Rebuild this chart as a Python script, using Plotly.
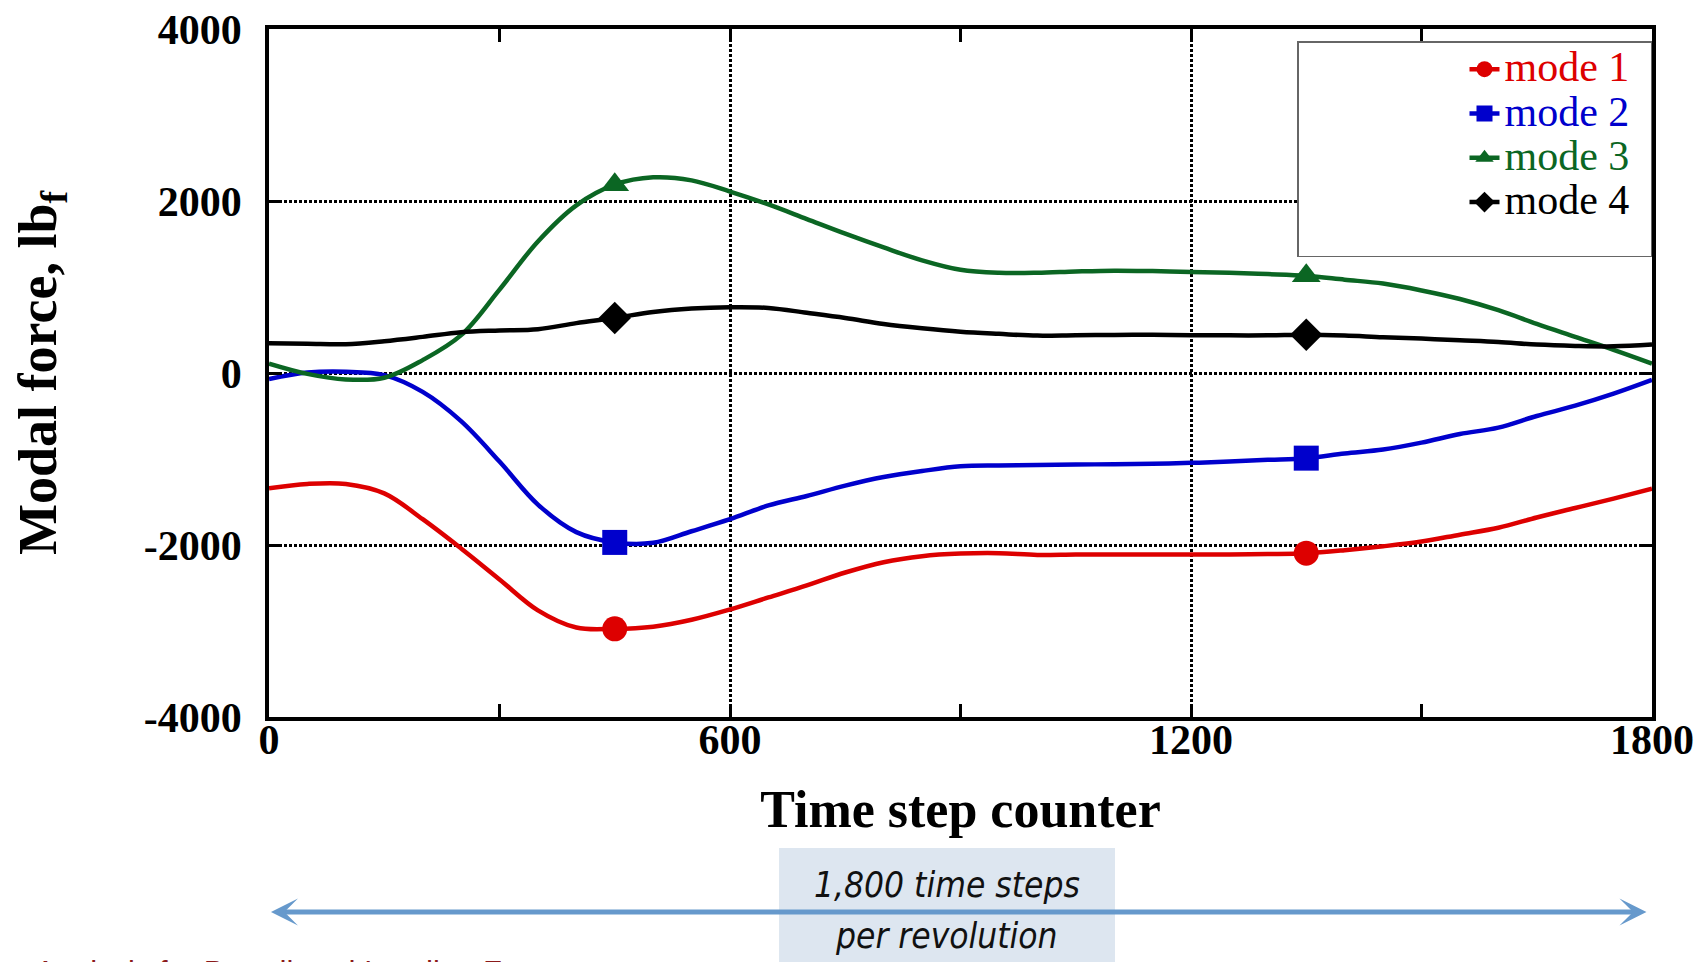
import plotly.graph_objects as go

# ---------------- data ----------------
time_step = [0, 50, 100, 150, 200, 250, 300, 350, 400, 450, 500, 550, 600,
             650, 700, 750, 800, 850, 900, 950, 1000, 1050, 1100, 1150, 1200,
             1250, 1300, 1350, 1400, 1450, 1500, 1550, 1600, 1650, 1700, 1750, 1800]

mode1 = [-1340, -1290, -1290, -1400, -1700, -2040, -2400, -2760, -2960, -2975,
         -2950, -2870, -2750, -2610, -2470, -2320, -2200, -2130, -2100, -2095,
         -2115, -2110, -2110, -2110, -2110, -2110, -2105, -2095, -2060, -2015,
         -1960, -1880, -1800, -1680, -1570, -1460, -1345]

mode2 = [-70, 5, 15, -25, -220, -560, -1030, -1530, -1850, -1970,
         -1975, -1840, -1700, -1540, -1430, -1310, -1210, -1140, -1085, -1075,
         -1070, -1065, -1060, -1055, -1045, -1030, -1010, -990, -935, -890,
         -810, -710, -635, -500, -380, -240, -80]

mode3 = [110, -10, -75, -55, 150, 440, 970, 1530, 1950, 2190,
         2275, 2240, 2110, 1960, 1790, 1620, 1460, 1310, 1200, 1165,
         1165, 1180, 1190, 1185, 1175, 1165, 1150, 1130, 1085, 1040,
         960, 860, 730, 570, 420, 270, 110]

mode4 = [345, 340, 335, 370, 420, 475, 495, 510, 580, 640,
         710, 750, 765, 757, 700, 640, 570, 520, 480, 455,
         435, 440, 443, 445, 440, 438, 438, 445, 435, 415,
         400, 380, 360, 330, 315, 310, 330]

marker_steps = [450, 1350]

series_names = ["mode 1", "mode 2", "mode 3", "mode 4"]
x_tick_vals = [0, 600, 1200, 1800]
x_tick_text = ["0", "600", "1200", "1800"]
y_tick_vals = [-4000, -2000, 0, 2000, 4000]
y_tick_text = ["-4000", "-2000", "0", "2000", "4000"]

# ---------------- style ----------------
colors = ["#dd0000", "#0000cc", "#0b6623", "#000000"]
symbols = ["circle", "square", "triangle-up", "diamond"]
serif = "Liberation Serif, Times New Roman, serif"

fig = go.Figure()

for name, ys, col, sym in zip(series_names, [mode1, mode2, mode3, mode4], colors, symbols):
    fig.add_trace(go.Scatter(
        x=time_step, y=ys, mode="lines",
        line=dict(color=col, width=4.5, shape="spline", smoothing=1),
        legendgroup=name, showlegend=False, hoverinfo="skip"))
    mx, my = [], []
    for i, s in enumerate(marker_steps):
        if i > 0:
            mx.append(None)
            my.append(None)
        mx.append(s)
        my.append(ys[time_step.index(s)])
    fig.add_trace(go.Scatter(
        x=mx, y=my, mode="lines+markers", connectgaps=False,
        name="<span style='color:%s;font-size:42px'>%s</span>&nbsp;&nbsp;" % (col, name),
        legendgroup=name,
        line=dict(color=col, width=4.5),
        marker=dict(symbol=sym, size=25, color=col, line=dict(width=0))))

axis_common = dict(
    showline=True, linewidth=3.5, linecolor="black", mirror="ticks",
    ticks="inside", ticklen=13, tickwidth=3, tickcolor="black",
    showgrid=True, gridcolor="black", gridwidth=3, griddash="3px,2px",
    zeroline=False, ticklabeloverflow="allow", automargin=False,
    tickfont=dict(family=serif, size=42, color="black", weight="bold"),
)

fig.update_xaxes(
    range=[0, 1800], tickvals=x_tick_vals, ticktext=x_tick_text,
    minor=dict(ticks="inside", ticklen=13, tickwidth=3, tickcolor="black",
               dtick=300, tick0=0, showgrid=False),
    title=dict(text="Time step counter", standoff=29,
               font=dict(family=serif, size=52, color="black", weight="bold")),
    ticklabelstandoff=-17,
    **axis_common)

fig.update_yaxes(
    range=[-4000, 4000], tickvals=y_tick_vals, ticktext=y_tick_text,
    title=dict(text="Modal force, lb<sub>f</sub>", standoff=78,
               font=dict(family=serif, size=54, color="black", weight="bold")),
    ticklabelstandoff=15,
    **axis_common)

legend_title = "&nbsp;" * 16 + "<br>&nbsp;" * 3

fig.update_layout(
    width=1703, height=962,
    margin=dict(l=261, r=59, t=21, b=253, autoexpand=False),
    plot_bgcolor="white", paper_bgcolor="white",
    showlegend=True,
    legend=dict(
        x=1, xanchor="right", y=0.9825, yanchor="top",
        bgcolor="white", bordercolor="#666666", borderwidth=1.5,
        font=dict(family=serif, size=31, color="black"),
        title=dict(text=legend_title, side="left", font=dict(family=serif, size=39)),
        tracegroupgap=1,
    ),
)

# annotation box below the chart
fig.add_shape(type="rect", xref="paper", yref="paper",
              x0=0.3688, x1=0.6117, y0=-0.45, y1=-0.1904,
              fillcolor="#dde6f0", line=dict(width=0), layer="below")

fig.add_annotation(xref="paper", yref="paper", x=0.996, y=-0.2834,
                   ax=-1377, ay=0, text="", showarrow=True,
                   arrowside="end+start", arrowhead=3, startarrowhead=3,
                   arrowsize=0.9, startarrowsize=0.9, arrowwidth=5,
                   arrowcolor="#6699cc")

narrow = "Liberation Sans Narrow, DejaVu Sans Condensed, Liberation Sans, Arial"
fig.add_annotation(xref="paper", yref="paper", x=0.4902, y=-0.2442,
                   xanchor="center", yanchor="middle",
                   text="1,800 time steps", showarrow=False,
                   font=dict(family=narrow, size=35, color="#111111", style="italic"))
fig.add_annotation(xref="paper", yref="paper", x=0.4902, y=-0.3183,
                   xanchor="center", yanchor="middle",
                   text="per revolution", showarrow=False,
                   font=dict(family=narrow, size=35, color="#111111", style="italic"))

fig.add_annotation(xref="paper", yref="paper", x=-0.1706, y=-0.3431,
                   xanchor="left", yanchor="top",
                   text="Analysis for Broadband Loading Forces", showarrow=False,
                   font=dict(family="Liberation Sans, Arial", size=31, color="#8b1a1a"))

fig.write_html("out.html")
